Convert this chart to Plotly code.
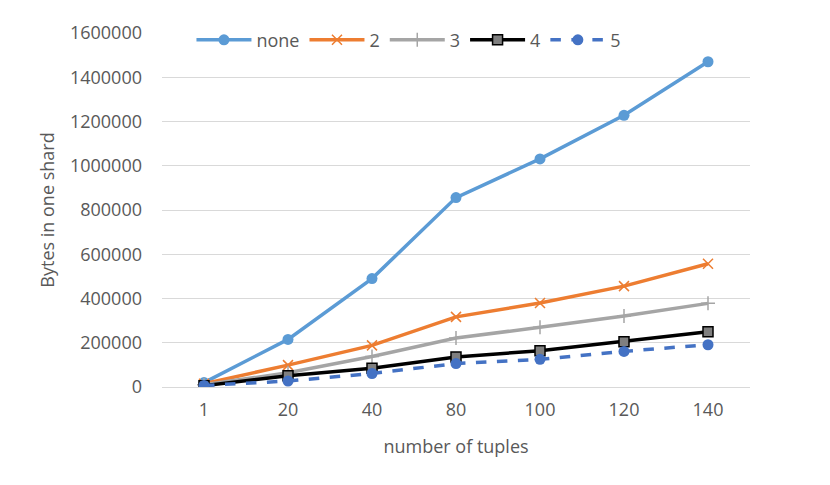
import plotly.graph_objects as go

# number of tuples (category axis)
tuples = ['1', '20', '40', '80', '100', '120', '140']

# bytes in one shard
none_bytes = [20000, 215000, 490000, 856000, 1031000, 1228000, 1470000]
two_bytes = [15000, 99000, 188000, 317000, 380000, 456000, 557000]
three_bytes = [10000, 64000, 138000, 221000, 270000, 321000, 378000]
four_bytes = [6000, 51000, 85000, 136000, 164000, 205000, 250000]
five_bytes = [7000, 27000, 61000, 106000, 125000, 161000, 191000]

font_name = 'Open Sans'
text_col = '#595959'

fig = go.Figure()

fig.add_trace(go.Scatter(x=tuples, y=none_bytes, name='none', mode='lines+markers',
                         line=dict(color='#5B9BD5', width=3.5),
                         marker=dict(symbol='circle', size=11, color='#5B9BD5')))
fig.add_trace(go.Scatter(x=tuples, y=two_bytes, name='2', mode='lines+markers',
                         line=dict(color='#ED7D31', width=3.5),
                         marker=dict(symbol='x-thin', size=10, color='#ED7D31',
                                     line=dict(color='#ED7D31', width=1.5))))
fig.add_trace(go.Scatter(x=tuples, y=three_bytes, name='3', mode='lines+markers',
                         line=dict(color='#A5A5A5', width=3.5),
                         marker=dict(symbol='cross-thin', size=10, color='#A5A5A5',
                                     line=dict(color='#A5A5A5', width=1.5))))
fig.add_trace(go.Scatter(x=tuples, y=four_bytes, name='4', mode='lines+markers',
                         line=dict(color='#000000', width=3.5),
                         marker=dict(symbol='square', size=10, color='#7F7F7F',
                                     line=dict(color='#000000', width=1.5))))
fig.add_trace(go.Scatter(x=tuples, y=five_bytes, name='5', mode='lines+markers',
                         line=dict(color='#4472C4', width=3.5, dash='dash'),
                         marker=dict(symbol='circle', size=11, color='#4472C4')))

# page has an 8px body margin, so the margins are shifted by that much
fig.update_layout(
    width=830, height=485,
    margin=dict(l=154, r=88, t=22, b=106),
    paper_bgcolor='white', plot_bgcolor='white',
    font=dict(family=font_name, size=18, color=text_col),
    legend=dict(orientation='h', x=0.42, xanchor='center', y=0.98, yanchor='middle',
                bgcolor='white', font=dict(size=18, color=text_col),
                itemwidth=55, tracegroupgap=0),
)

fig.update_xaxes(type='category', range=[-0.5, 6.5], showgrid=False,
                 showline=False, zeroline=False, ticks='',
                 ticklabelstandoff=10,
                 title=dict(text='number of tuples', standoff=20,
                            font=dict(size=18, color=text_col)))
fig.update_yaxes(range=[0, 1600000], dtick=200000, tickformat='d',
                 showgrid=True, gridcolor='#D9D9D9', gridwidth=1,
                 zeroline=True, zerolinecolor='#D9D9D9', zerolinewidth=1,
                 showline=False, ticks='', ticklabelstandoff=19,
                 title=dict(text='Bytes in one shard', standoff=10,
                            font=dict(size=18, color=text_col)))

fig.write_html("out.html")
